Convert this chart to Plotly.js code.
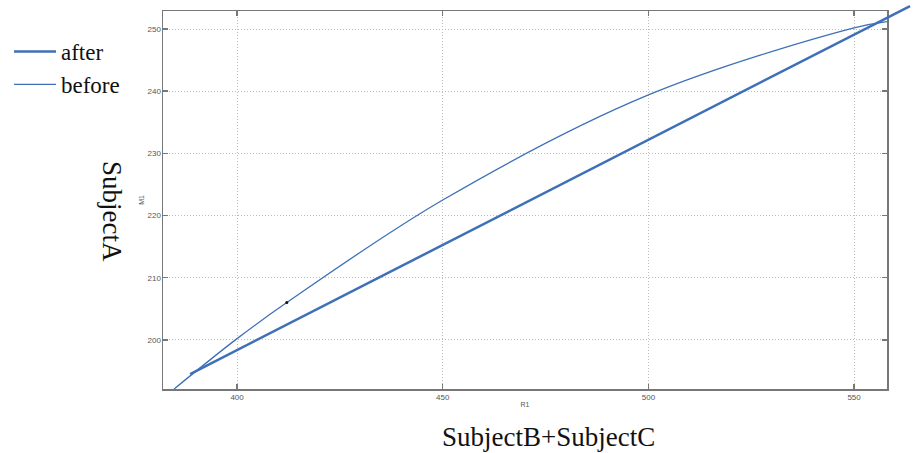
<!DOCTYPE html>
<html>
<head>
<meta charset="utf-8">
<script src="https://cdn.plot.ly/plotly-3.0.1.min.js"></script>
<style>html,body{margin:0;padding:0;background:#fff;}#chart{width:915px;height:453px;}</style>
</head>
<body>
<div id="chart"></div>
<script>
const afterX = [388.6, 563.6];
const afterY = [194.5, 253.7];
const beforeX = [384.7, 400, 412.1, 450, 500, 550, 558];
const beforeY = [192.1, 200.2, 206.0, 222.5, 239.4, 250.2, 251.2];
const dotX = [412.1];
const dotY = [206.0];
const xTicks = [400, 450, 500, 550];
const yTicks = [200, 210, 220, 230, 240, 250];
const seriesNames = ['after', 'before'];
const xLabel = 'R1', yLabel = 'M1';
const bigX = 'SubjectB+SubjectC', bigY = 'SubjectA';

// geometry: framed plot 163..887 x 11..389 ; wide overlay 163..915 x 0..389
const xr = [382, 558], yr = [192.1, 252.9];
const W = 724, H = 378, Wfull = 752, Hfull = 389;
const xr2 = [xr[0], xr[0] + (xr[1] - xr[0]) * Wfull / W];
const yr2 = [yr[0], yr[0] + (yr[1] - yr[0]) * Hfull / H];

const blue = '#3e70b8';
const traces = [
  {x: afterX, y: afterY, name: seriesNames[0], mode: 'lines', xaxis: 'x2', yaxis: 'y2',
   line: {color: blue, width: 2.5}},
  {x: beforeX, y: beforeY, name: seriesNames[1], mode: 'lines',
   line: {color: blue, width: 1.3, shape: 'spline', smoothing: 1}},
  {x: dotX, y: dotY, mode: 'markers', showlegend: false, hoverinfo: 'skip',
   marker: {color: '#111', size: 3}}
];
const axisCommon = {
  showline: true, mirror: 'allticks', linecolor: '#777', linewidth: 1.5,
  ticks: 'inside', ticklen: 5, tickcolor: '#777', tickwidth: 1.5,
  showgrid: true, gridcolor: '#bdbdbd', gridwidth: 1, griddash: '1px,2px',
  zeroline: false, tickfont: {family: 'Liberation Sans, Arial', size: 8, color: '#555'}
};
const layout = {
  width: 915, height: 453,
  margin: {l: 163, r: 0, t: 0, b: 64, autoexpand: false},
  paper_bgcolor: '#fff', plot_bgcolor: 'rgba(0,0,0,0)',
  showlegend: true,
  legend: {x: (9 - 163) / Wfull, xanchor: 'left', y: (Hfull - 30) / Hfull, yanchor: 'top',
    itemwidth: 42,
    font: {family: 'Liberation Serif, Times New Roman, serif', size: 23, color: '#111'},
    bgcolor: 'rgba(0,0,0,0)', tracegroupgap: 0},
  xaxis: Object.assign({}, axisCommon, {range: xr, tickvals: xTicks, domain: [0, W / Wfull],
    title: {text: xLabel, standoff: 1, font: {family: 'Liberation Sans, Arial', size: 7, color: '#555'}}}),
  yaxis: Object.assign({}, axisCommon, {range: yr, tickvals: yTicks, domain: [0, H / Hfull],
    ticklabelstandoff: -1,
    title: {text: yLabel, standoff: 2, font: {family: 'Liberation Sans, Arial', size: 7, color: '#555'}}}),
  xaxis2: {range: xr2, domain: [0, 1], anchor: 'y2', visible: false, showgrid: false, zeroline: false},
  yaxis2: {range: yr2, domain: [0, 1], anchor: 'x2', visible: false, showgrid: false, zeroline: false},
  annotations: [
    {text: bigX, xref: 'paper', yref: 'paper', x: (548 - 163) / Wfull, y: (389 - 437) / Hfull,
     xanchor: 'center', yanchor: 'middle',
     showarrow: false, font: {family: 'Liberation Serif, Times New Roman, serif', size: 27, color: '#111'}},
    {text: bigY, xref: 'paper', yref: 'paper', x: (112 - 163) / Wfull, y: (389 - 211) / Hfull,
     xanchor: 'center', yanchor: 'middle',
     textangle: 90, showarrow: false, font: {family: 'Liberation Serif, Times New Roman, serif', size: 27, color: '#111'}}
  ]
};
Plotly.newPlot('chart', traces, layout, {displayModeBar: false, staticPlot: true});
</script>
</body>
</html>
